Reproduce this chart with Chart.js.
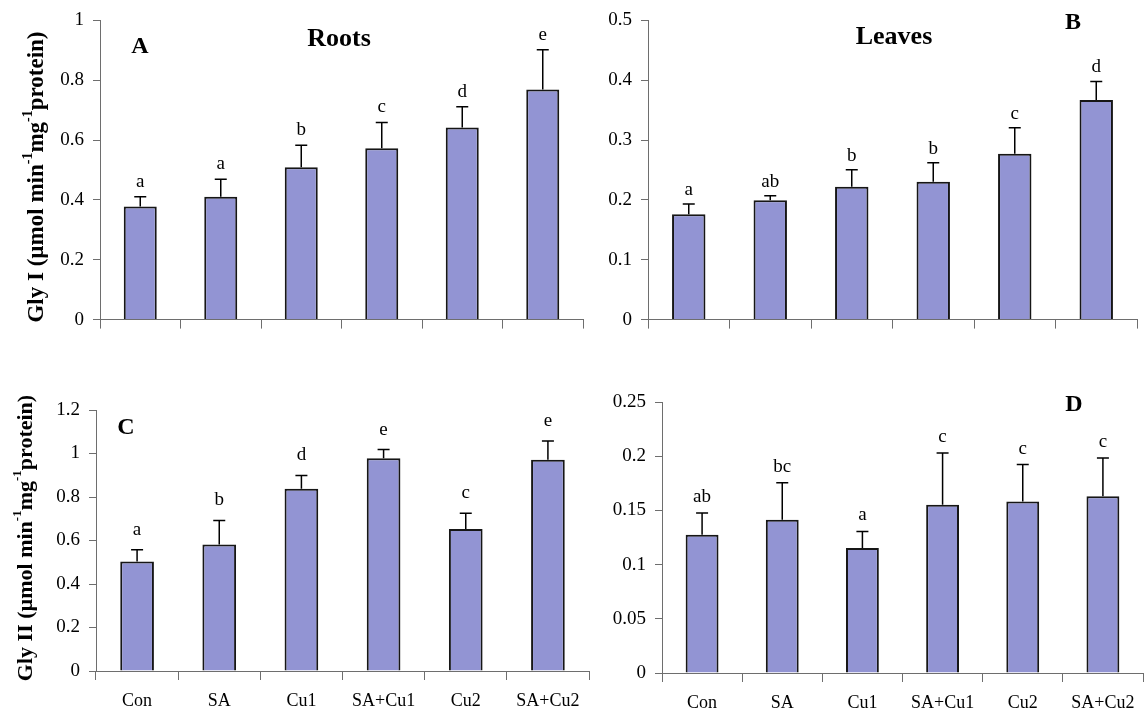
<!DOCTYPE html>
<html>
<head>
<meta charset="utf-8">
<script src="https://cdn.jsdelivr.net/npm/chart.js@4.4.0/dist/chart.umd.min.js"></script>
<style>
  html, body { margin: 0; padding: 0; background: #fff; }
  body { width: 1145px; height: 709px; position: relative; overflow: hidden; }
  canvas { position: absolute; }
</style>
</head>
<body>
<canvas id="chartA" width="590" height="340" style="left:0px;top:0px"></canvas>
<canvas id="chartB" width="555" height="340" style="left:590px;top:0px"></canvas>
<canvas id="chartC" width="595" height="339" style="left:0px;top:370px"></canvas>
<canvas id="chartD" width="550" height="339" style="left:595px;top:370px"></canvas>
<script>
// treatments on the x axis
const treatments = ['Con', 'SA', 'Cu1', 'SA+Cu1', 'Cu2', 'SA+Cu2']

// A - Gly I, roots
const gly1Roots = [0.378, 0.411, 0.509, 0.573, 0.642, 0.769]
const gly1RootsSE = [0.033, 0.058, 0.074, 0.086, 0.069, 0.133]
const gly1RootsSig = ['a', 'a', 'b', 'c', 'd', 'e']

// B - Gly I, leaves
const gly1Leaves = [0.176, 0.1995, 0.222, 0.2305, 0.277, 0.367]
const gly1LeavesSE = [0.017, 0.0075, 0.0285, 0.0315, 0.0435, 0.031]
const gly1LeavesSig = ['a', 'ab', 'b', 'b', 'c', 'd']

// C - Gly II, roots
const gly2Roots = [0.503, 0.582, 0.838, 0.978, 0.653, 0.971]
const gly2RootsSE = [0.055, 0.110, 0.061, 0.040, 0.072, 0.087]
const gly2RootsSig = ['a', 'b', 'd', 'e', 'c', 'e']

// D - Gly II, leaves
const gly2Leaves = [0.1276, 0.1414, 0.1153, 0.1553, 0.1583, 0.163]
const gly2LeavesSE = [0.020, 0.034, 0.0153, 0.0477, 0.034, 0.0353]
const gly2LeavesSig = ['ab', 'bc', 'a', 'c', 'c', 'c']

// y axis titles, [text, superscript?]
const gly1Title = [['Gly I (µmol min', 0], ['-1', 1], ['mg', 0], ['-1', 1], ['protein)', 0]]
const gly2Title = [['Gly II (µmol min', 0], ['-1', 1], ['mg', 0], ['-1', 1], ['protein)', 0]]

const serif = '"Liberation Serif", "Times New Roman", serif'
const axisColor = '#6e6e6e'
Chart.defaults.font.family = serif

function drawYTitle(ctx, parts, x, cy, size) {
    const big = 'bold ' + size + 'px ' + serif
    const small = 'bold ' + Math.round(size * 0.6) + 'px ' + serif
    ctx.save()
    ctx.translate(x, cy)
    ctx.rotate(-Math.PI / 2)
    ctx.textAlign = 'left'
    ctx.textBaseline = 'middle'
    ctx.fillStyle = '#000'
    let total = 0
    parts.forEach(p => {
        ctx.font = p[1] ? small : big
        total += ctx.measureText(p[0]).width
    })
    let pos = -total / 2
    parts.forEach(p => {
        ctx.font = p[1] ? small : big
        ctx.fillText(p[0], pos, p[1] ? -size * 0.38 : 0)
        pos += ctx.measureText(p[0]).width
    })
    ctx.restore()
}

function makePanel(p) {
    const el = document.getElementById(p.id)
    const W = el.width, H = el.height

    const extras = {
        id: 'extras_' + p.id,
        afterDatasetsDraw(chart) {
            const ctx = chart.ctx
            const meta = chart.getDatasetMeta(0)
            const y = chart.scales.y
            ctx.save()
            ctx.strokeStyle = '#000'
            ctx.lineWidth = 1.5
            ctx.fillStyle = '#000'
            ctx.font = '19px ' + serif
            ctx.textAlign = 'center'
            ctx.textBaseline = 'alphabetic'
            meta.data.forEach((bar, i) => {
                const top = y.getPixelForValue(p.values[i] + p.errors[i])
                ctx.beginPath()
                ctx.moveTo(bar.x, bar.y)
                ctx.lineTo(bar.x, top)
                ctx.moveTo(bar.x - 6, top)
                ctx.lineTo(bar.x + 6, top)
                ctx.stroke()
                ctx.fillText(p.letters[i], bar.x, top - p.gap)
            })
            ctx.restore()
        },
        afterDraw(chart) {
            const ctx = chart.ctx
            ctx.save()
            ctx.fillStyle = '#000'
            ctx.textAlign = 'center'
            ctx.textBaseline = 'middle'
            ctx.font = 'bold 24px ' + serif
            ctx.fillText(p.panel[0], p.panel[1], p.panel[2])
            if (p.heading) {
                ctx.font = 'bold 26px ' + serif
                ctx.fillText(p.heading[0], p.heading[1], p.heading[2])
            }
            ctx.restore()
            if (p.yTitle) drawYTitle(ctx, p.yTitle[0], p.yTitle[1], p.yTitle[2], p.yTitle[3])
        }
    }

    return new Chart(el, {
        type: 'bar',
        data: {
            labels: treatments,
            datasets: [{
                data: p.values,
                backgroundColor: '#9294d3',
                borderColor: '#161616',
                borderWidth: 2,
                barPercentage: 0.41,
                categoryPercentage: 1
            }]
        },
        options: {
            responsive: false,
            animation: false,
            devicePixelRatio: 1,
            layout: { padding: { top: p.area.top, right: W - p.area.right, left: 0, bottom: 0 } },
            plugins: { legend: { display: false }, tooltip: { enabled: false } },
            scales: {
                x: {
                    grid: { offset: true, drawOnChartArea: false, tickLength: 9, color: axisColor },
                    border: { color: axisColor, width: 1 },
                    ticks: {
                        display: p.showLabels,
                        color: '#000',
                        font: { size: 18 },
                        padding: 10,
                        maxRotation: 0,
                        autoSkip: false
                    },
                    afterFit: s => { s.height = H - p.area.bottom }
                },
                y: {
                    min: 0,
                    max: p.max,
                    grid: { drawOnChartArea: false, tickLength: 7, color: axisColor },
                    border: { color: axisColor, width: 1 },
                    ticks: {
                        stepSize: p.step,
                        color: '#000',
                        font: { size: 19 },
                        padding: 9,
                        callback: v => String(+v.toFixed(3))
                    },
                    afterFit: s => { s.width = p.area.left }
                }
            }
        },
        plugins: [extras]
    })
}

makePanel({
    id: 'chartA', values: gly1Roots, errors: gly1RootsSE, letters: gly1RootsSig,
    max: 1, step: 0.2, gap: 10, showLabels: false,
    area: { left: 100, right: 583, top: 20, bottom: 320 },
    panel: ['A', 140, 47], heading: ['Roots', 339, 39],
    yTitle: [gly1Title, 37, 177, 23]
})

makePanel({
    id: 'chartB', values: gly1Leaves, errors: gly1LeavesSE, letters: gly1LeavesSig,
    max: 0.5, step: 0.1, gap: 9, showLabels: false,
    area: { left: 58, right: 547, top: 19, bottom: 320 },
    panel: ['B', 483, 23], heading: ['Leaves', 304, 37]
})

makePanel({
    id: 'chartC', values: gly2Roots, errors: gly2RootsSE, letters: gly2RootsSig,
    max: 1.2, step: 0.2, gap: 15, showLabels: true,
    area: { left: 96, right: 589, top: 40, bottom: 301 },
    panel: ['C', 126, 58],
    yTitle: [gly2Title, 26, 168, 22]
})

makePanel({
    id: 'chartD', values: gly2Leaves, errors: gly2LeavesSE, letters: gly2LeavesSig,
    max: 0.25, step: 0.05, gap: 11, showLabels: true,
    area: { left: 67, right: 548, top: 32, bottom: 303 },
    panel: ['D', 479, 35]
})
</script>
</body>
</html>
